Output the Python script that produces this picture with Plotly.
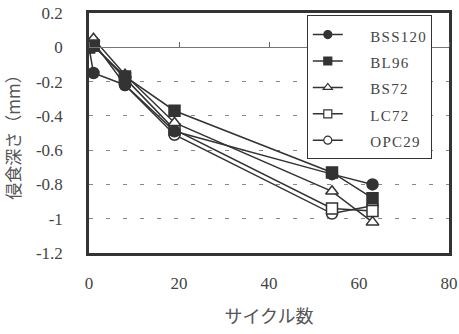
import plotly.graph_objects as go

cycles = [0, 1, 8, 19, 54, 63]
series_names = ["BSS120", "BL96", "BS72", "LC72", "OPC29"]
bss120 = [0, -0.15, -0.22, -0.49, -0.74, -0.80]
bl96 = [0, 0.01, -0.17, -0.37, -0.73, -0.88]
bs72 = [0, 0.05, -0.16, -0.44, -0.84, -1.02]
lc72 = [0, 0.01, -0.18, -0.48, -0.94, -0.955]
opc29 = [0, 0.03, -0.22, -0.51, -0.97, -0.925]
x_ticks = [0, 20, 40, 60, 80]
y_ticks = [0.2, 0, -0.2, -0.4, -0.6, -0.8, -1, -1.2]
y_tick_text = ["0.2", "0", "-0.2", "-0.4", "-0.6", "-0.8", "-1", "-1.2"]

DARK = "#333333"
styles = [
    dict(symbol="circle", color=DARK),
    dict(symbol="square", color=DARK),
    dict(symbol="triangle-up", color="white"),
    dict(symbol="square", color="white"),
    dict(symbol="circle", color="white"),
]
values = [bss120, bl96, bs72, lc72, opc29]

fig = go.Figure()
for name, vals, st in reversed(list(zip(series_names, values, styles))):
    fig.add_trace(go.Scatter(
        x=cycles, y=vals, mode="lines+markers", name=name, showlegend=False,
        line=dict(color=DARK, width=1.5),
        marker=dict(symbol=st["symbol"], size=11, color=st["color"],
                    line=dict(color=DARK, width=1.5)),
    ))
for name, st in zip(series_names, styles):
    spaced = "\u2003\u2002" + "\u200a".join(name)
    fig.add_trace(go.Scatter(
        x=[None], y=[None], mode="lines+markers",
        name='<span style="font-size:15px">' + spaced + '</span>',
        line=dict(color=DARK, width=1.5),
        marker=dict(symbol=st["symbol"], size=8, color=st["color"],
                    line=dict(color=DARK, width=1.2)),
    ))
fig.add_trace(go.Scatter(x=[None], y=[None], xaxis="x2", showlegend=False))

fig.update_layout(
    width=459, height=334,
    margin=dict(l=89, r=10, t=13, b=81, autoexpand=False),
    paper_bgcolor="white", plot_bgcolor="white",
    showlegend=True,
    legend=dict(
        x=0.605, y=0.99, xanchor="left", yanchor="top",
        bgcolor="white", bordercolor=DARK, borderwidth=1,
        font=dict(family="Liberation Serif", size=18, color="#444444"),
        tracegroupgap=0,
    ),
    xaxis=dict(
        range=[0, 80], tickvals=x_ticks, ticks="", automargin=False,
        showgrid=False, zeroline=False,
        showline=True, mirror=True, linecolor=DARK, linewidth=2.5,
        tickfont=dict(family="Liberation Serif", size=17, color="#444444"),
        ticklabelstandoff=13, ticklabeloverflow="allow",
        title=dict(text="サイクル数", standoff=19,
                   font=dict(family="Noto Sans CJK JP", size=18, color="#555555")),
    ),
    xaxis2=dict(
        range=[0, 80], overlaying="x", anchor="free", automargin=False,
        position=(0 - (-1.2)) / 1.4, side="top",
        tickvals=x_ticks, ticks="outside", ticklen=5, tickwidth=1,
        tickcolor="#666666", showticklabels=False,
        showline=True, linecolor="#777777", linewidth=1,
        showgrid=False, zeroline=False,
    ),
    yaxis=dict(
        range=[-1.2, 0.2], tickvals=y_ticks, ticktext=y_tick_text, ticks="",
        automargin=False,
        showgrid=True, gridcolor="#888888", gridwidth=1, griddash="4px,13px",
        zeroline=False,
        showline=True, mirror=True, linecolor=DARK, linewidth=2.5,
        tickfont=dict(family="Liberation Serif", size=17, color="#444444"),
        ticklabelstandoff=20, ticklabeloverflow="allow",
        title=dict(text="侵食深さ（mm）", standoff=14,
                   font=dict(family="Noto Sans CJK JP", size=17, color="#555555")),
    ),
)

fig.write_html(
    "out.html",
    config={"displayModeBar": False},
    post_script="document.body.style.margin='0';document.body.style.overflow='hidden';",
)
